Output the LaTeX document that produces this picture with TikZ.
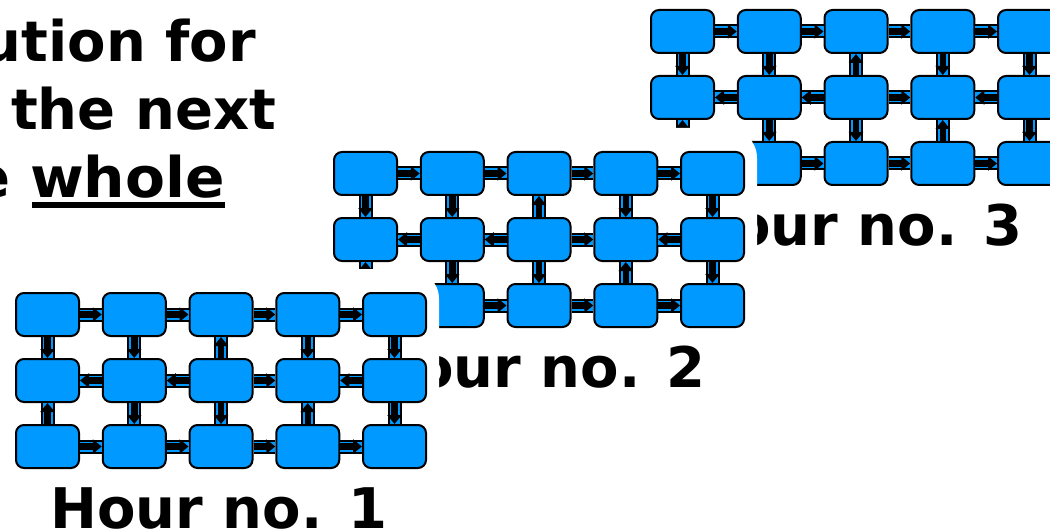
\documentclass[tikz,border=0pt]{standalone}
\usepackage{fontspec}
\setmainfont{DejaVu Sans}
\usetikzlibrary{arrows.meta,calc}
\definecolor{boxblue}{RGB}{0,153,255}
\tikzset{
  cell/.style={draw=black, line width=2pt, fill=boxblue, rounded corners=8pt,
    minimum width=63pt, minimum height=43pt, inner sep=0pt},
  band/.style={draw=black, line width=2pt, double=boxblue, double distance=10pt},
  flow/.style={draw=black, line width=6.5pt, -{Triangle[length=9pt,width=14pt]}},
  groupbg/.style={fill=white, rounded corners=30pt},
  big/.style={font=\fontsize{56}{67}\selectfont\bfseries, inner sep=0pt, outer sep=0pt},
}
\newcommand\hourgrid[4]{%
  \fill[groupbg] ({#1-40},{#2-23}) rectangle ({#1+424},{#2+280});
  \foreach \r in {1,2,3}{
    \foreach \c in {1,...,5}{
      \node[cell] (#3-\r-\c) at ({#1+32.5+86.75*(\c-1)},{#2+22.5+66*(\r-1)}) {};
    }
  }
  \foreach \a/\b in {1-1/1-2,1-2/1-3,1-3/1-4,1-4/1-5,
                     2-1/2-2,2-2/2-3,2-3/2-4,2-4/2-5,
                     3-1/3-2,3-2/3-3,3-3/3-4,3-4/3-5,
                     1-1/2-1,1-2/2-2,1-3/2-3,1-4/2-4,1-5/2-5,
                     2-1/3-1,2-2/3-2,2-3/3-3,2-4/3-4,2-5/3-5}{
    \draw[band] (#3-\a) -- (#3-\b);
  }
  \foreach \a/\b in {1-1/1-2,1-2/1-3,1-3/1-4,1-4/1-5,
                     2-2/2-1,2-3/2-2,2-3/2-4,2-5/2-4,
                     3-1/3-2,3-2/3-3,3-3/3-4,3-4/3-5,
                     1-1/2-1,1-2/2-2,2-3/1-3,1-4/2-4,1-5/2-5,
                     3-1/2-1,2-2/3-2,2-3/3-3,3-4/2-4,2-5/3-5}{
    \draw[flow] (#3-\a) -- (#3-\b);
  }
  \node[big, anchor=base] (#3-label) at ({#1+204},{#2+236}) {Hour no. #4};
}
\begin{document}
\begin{tikzpicture}[x=1pt,y=-1pt]
\useasboundingbox (0,0) rectangle (1050,532);
% title fragment
\node[big, anchor=base east] (t1) at (256,62) {ution for};
\node[big, anchor=base east] (t2) at (276,130) {the next};
\node[big, anchor=base west] (t3w) at (30,197) {\scalebox{1.04}[1]{whole}};
\node[big, anchor=base east] (t3e) at ($(t3w.base west)+(-19.5,0)$) {e};
\fill ($(t3w.base west)+(2,5)$) rectangle ($(t3w.base east)+(0,11)$);
% three hours, back to front
\hourgrid{650}{9}{g3}{3}
\hourgrid{333}{151}{g2}{2}
\hourgrid{15}{292}{g1}{1}
\end{tikzpicture}
\end{document}
